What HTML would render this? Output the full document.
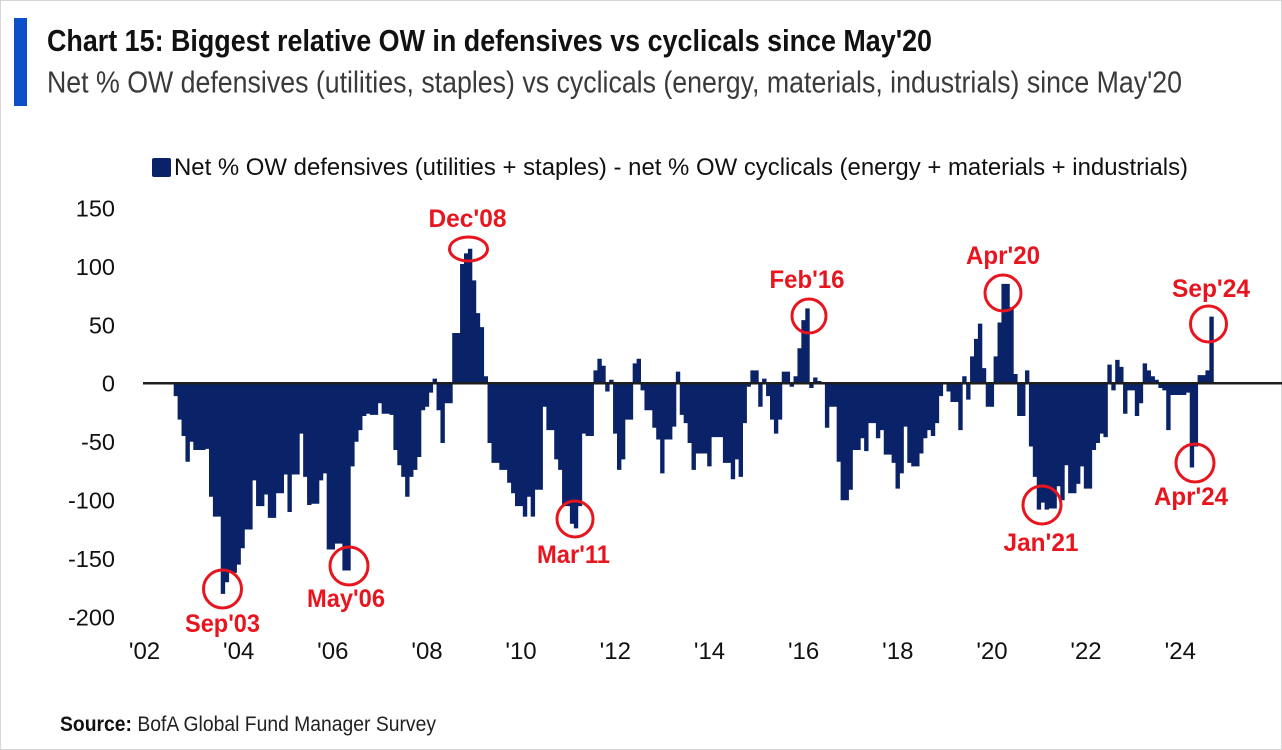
<!DOCTYPE html>
<html>
<head>
<meta charset="utf-8">
<style>
  html, body { margin: 0; padding: 0; background: #ffffff; }
  body { width: 1282px; height: 750px; overflow: hidden; }
  svg { display: block; font-family: "Liberation Sans", Arial, sans-serif; }
</style>
</head>
<body>
<svg width="1282" height="750" viewBox="0 0 1282 750" xmlns="http://www.w3.org/2000/svg">
  <rect x="0" y="0" width="1282" height="750" fill="#ffffff"/>
  <rect x="0.5" y="0.5" width="1281" height="749" fill="none" stroke="#d6d6d6" stroke-width="1"/>

  <!-- Header -->
  <rect x="14" y="18" width="13" height="88" fill="#0b50c8"/>
  <text x="47" y="51" font-size="31" font-weight="bold" fill="#111111" textLength="885" lengthAdjust="spacingAndGlyphs">Chart 15: Biggest relative OW in defensives vs cyclicals since May'20</text>
  <text x="47" y="92.5" font-size="31" fill="#3a3a3a" textLength="1135" lengthAdjust="spacingAndGlyphs">Net % OW defensives (utilities, staples) vs cyclicals (energy, materials, industrials) since May'20</text>

  <!-- Legend -->
  <rect x="152" y="158" width="19" height="19" rx="2" fill="#0a2368"/>
  <text x="174" y="175" font-size="24" fill="#111111" textLength="1014" lengthAdjust="spacingAndGlyphs">Net % OW defensives (utilities + staples) - net % OW cyclicals (energy + materials + industrials)</text>

  <!-- Y axis labels -->
  <g font-size="23.5" fill="#111111" text-anchor="end">
    <text x="115" y="216.5">150</text>
    <text x="115" y="275">100</text>
    <text x="115" y="333.5">50</text>
    <text x="115" y="391.5">0</text>
    <text x="115" y="450">-50</text>
    <text x="115" y="508.5">-100</text>
    <text x="115" y="567">-150</text>
    <text x="115" y="625.5">-200</text>
  </g>

  <!-- X axis labels -->
  <g font-size="24" fill="#111111" text-anchor="middle">
    <text x="144.5" y="659">'02</text>
    <text x="238.7" y="659">'04</text>
    <text x="332.8" y="659">'06</text>
    <text x="427" y="659">'08</text>
    <text x="521" y="659">'10</text>
    <text x="615.3" y="659">'12</text>
    <text x="709.5" y="659">'14</text>
    <text x="803.6" y="659">'16</text>
    <text x="897.8" y="659">'18</text>
    <text x="992" y="659">'20</text>
    <text x="1086" y="659">'22</text>
    <text x="1180.3" y="659">'24</text>
  </g>

  <!-- Bars -->
  <g transform="translate(144.5 383.3) scale(3.923 -1.17)">
    <path fill="none" stroke="#0a2368" stroke-width="1.12" stroke-linecap="butt"
      d="M8 0V-11M9 0V-31M10 0V-45M11 0V-67M12 0V-50M13 0V-57M14 0V-57M15 0V-57M16 0V-56M17 0V-97M18 0V-114M19 0V-114M20 0V-180M21 0V-170M22 0V-162M23 0V-162M24 0V-155M25 0V-141M26 0V-125M27 0V-125M28 0V-83M29 0V-105M30 0V-105M31 0V-95M32 0V-115M33 0V-115M34 0V-94M35 0V-94M36 0V-78M37 0V-110M38 0V-78M39 0V-78M40 0V-43M41 0V-80M42 0V-104M43 0V-103M44 0V-103M45 0V-83M46 0V-77M47 0V-142M48 0V-142M49 0V-137M50 0V-137M51 0V-160M52 0V-160M53 0V-71M54 0V-50M55 0V-40M56 0V-28M57 0V-26M58 0V-27M59 0V-27M60 0V-17M61 0V-26M62 0V-26M63 0V-27M64 0V-57M65 0V-70M66 0V-80M67 0V-97M68 0V-80M69 0V-74M70 0V-63M71 0V-23M72 0V-20M73 0V-8M74 0V4M75 0V-23M76 0V-51M77 0V-17M78 0V-17M79 0V43M80 0V43M81 0V102M82 0V111M83 0V115M84 0V88M85 0V60M86 0V48M87 0V6M88 0V-51M89 0V-68M90 0V-68M91 0V-74M92 0V-74M93 0V-85M94 0V-94M95 0V-105M96 0V-105M97 0V-114M98 0V-97M99 0V-114M100 0V-91M101 0V-91M102 0V-20M103 0V-40M104 0V-40M105 0V-65M106 0V-74M107 0V-105M108 0V-105M109 0V-120M110 0V-124M111 0V-105M112 0V-43M113 0V-45M114 0V-45M115 0V11M116 0V21M117 0V15M118 0V-7M119 0V3M120 0V-43M121 0V-74M122 0V-65M123 0V-31M124 0V-31M125 0V17M126 0V21M127 0V-6M128 0V-23M129 0V-23M130 0V-38M131 0V-48M132 0V-77M133 0V-48M134 0V-48M135 0V-37M136 0V10M137 0V-27M138 0V-34M139 0V-51M140 0V-74M141 0V-60M142 0V-60M143 0V-60M144 0V-71M145 0V-46M146 0V-46M147 0V-46M148 0V-68M149 0V-68M150 0V-82M151 0V-65M152 0V-80M153 0V-34M154 0V-3M155 0V11M156 0V11M157 0V-20M158 0V4M159 0V-11M160 0V-31M161 0V-43M162 0V-31M163 0V10M164 0V10M165 0V-3M166 0V6M167 0V30M168 0V54M169 0V64M170 0V-4M171 0V5M172 0V2M173 0V1M174 0V-38M175 0V-20M176 0V-20M177 0V-67M178 0V-100M179 0V-100M180 0V-91M181 0V-57M182 0V-57M183 0V-47M184 0V-58M185 0V-34M186 0V-34M187 0V-47M188 0V-40M189 0V-61M190 0V-61M191 0V-68M192 0V-90M193 0V-77M194 0V-37M195 0V-68M196 0V-71M197 0V-71M198 0V-60M199 0V-47M200 0V-40M201 0V-45M202 0V-34M203 0V-11M204 0V1M205 0V-7M206 0V-16M207 0V-16M208 0V-40M209 0V6M210 0V-14M211 0V23M212 0V38M213 0V51M214 0V13M215 0V-20M216 0V-20M217 0V23M218 0V52M219 0V85M220 0V85M221 0V65M222 0V8M223 0V-28M224 0V-28M225 0V11M226 0V-54M227 0V-80M228 0V-108M229 0V-102M230 0V-108M231 0V-107M232 0V-107M233 0V-88M234 0V-100M235 0V-70M236 0V-94M237 0V-94M238 0V-86M239 0V-71M240 0V-90M241 0V-90M242 0V-57M243 0V-51M244 0V-43M245 0V-46M246 0V16M247 0V-6M248 0V20M249 0V14M250 0V-26M251 0V-6M252 0V-6M253 0V-28M254 0V-17M255 0V17M256 0V11M257 0V6M258 0V3M259 0V-4M260 0V-6M261 0V-40M262 0V-10M263 0V-10M264 0V-10M265 0V-10M266 0V-8M267 0V-72M268 0V-54M269 0V7M270 0V7M271 0V11M272 0V57"/>
  </g>

  <!-- Zero line -->
  <line x1="143" y1="383.3" x2="1282" y2="383.3" stroke="#1e1e1e" stroke-width="2.5"/>

  <!-- Annotation circles -->
  <g fill="none" stroke="#e8151e" stroke-width="3">
    <circle cx="222.5" cy="589" r="19"/>
    <circle cx="349" cy="566" r="19"/>
    <ellipse cx="468.5" cy="249" rx="19" ry="12"/>
    <circle cx="575" cy="519" r="18"/>
    <circle cx="809" cy="316" r="17"/>
    <circle cx="1003" cy="293" r="18"/>
    <circle cx="1042" cy="505" r="19"/>
    <circle cx="1195" cy="463" r="19"/>
    <circle cx="1208.5" cy="324" r="18"/>
  </g>

  <!-- Annotation labels -->
  <g font-size="25" font-weight="bold" fill="#e8151e" text-anchor="middle">
    <text x="222.5" y="632" textLength="75" lengthAdjust="spacingAndGlyphs">Sep'03</text>
    <text x="346" y="607" textLength="78" lengthAdjust="spacingAndGlyphs">May'06</text>
    <text x="467.5" y="227" textLength="78" lengthAdjust="spacingAndGlyphs">Dec'08</text>
    <text x="573.5" y="563" textLength="73" lengthAdjust="spacingAndGlyphs">Mar'11</text>
    <text x="807" y="288" textLength="75" lengthAdjust="spacingAndGlyphs">Feb'16</text>
    <text x="1003" y="264" textLength="74" lengthAdjust="spacingAndGlyphs">Apr'20</text>
    <text x="1041" y="551" textLength="75" lengthAdjust="spacingAndGlyphs">Jan'21</text>
    <text x="1191" y="505" textLength="74" lengthAdjust="spacingAndGlyphs">Apr'24</text>
    <text x="1211" y="297" textLength="78" lengthAdjust="spacingAndGlyphs">Sep'24</text>
  </g>

  <!-- Source -->
  <text x="60" y="731" font-size="21" fill="#222222" textLength="376" lengthAdjust="spacingAndGlyphs"><tspan font-weight="bold" fill="#111111">Source:</tspan> BofA Global Fund Manager Survey</text>
</svg>
</body>
</html>
